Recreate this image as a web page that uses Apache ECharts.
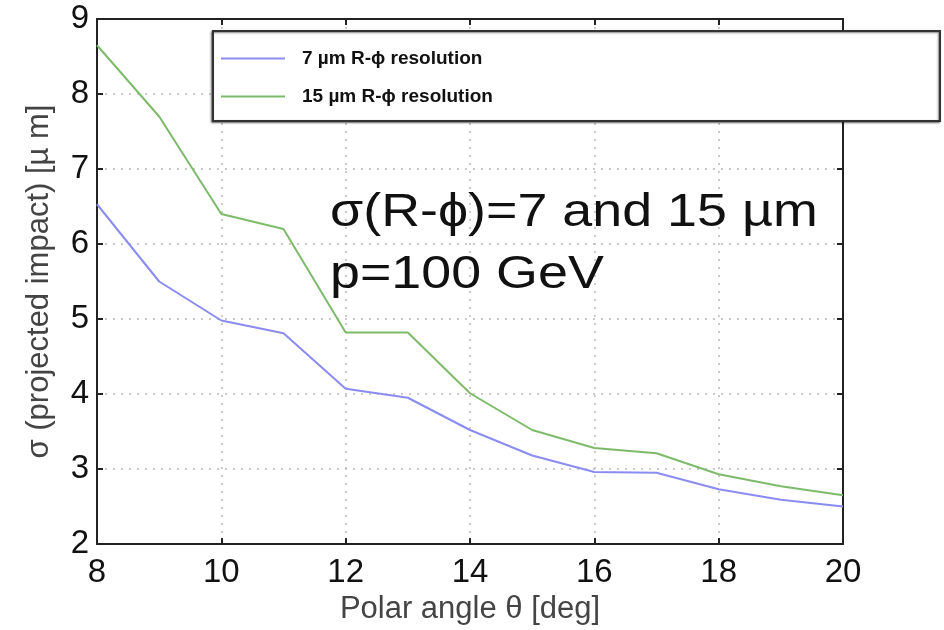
<!DOCTYPE html>
<html>
<head>
<meta charset="utf-8">
<script src="https://cdn.jsdelivr.net/npm/echarts@6/dist/echarts.min.js"></script>
<style>
  html, body { margin: 0; padding: 0; background: #fff; }
  #main { width: 944px; height: 630px; }
</style>
</head>
<body>
<div id="main"></div>
<script>
var angles = [8, 9, 10, 11, 12, 13, 14, 15, 16, 17, 18, 19, 20];
var res7 = [6.53, 5.5, 4.98, 4.81, 4.07, 3.95, 3.52, 3.18, 2.96, 2.95, 2.73, 2.59, 2.5];
var res15 = [8.65, 7.7, 6.4, 6.2, 4.82, 4.82, 4.01, 3.52, 3.28, 3.21, 2.93, 2.77, 2.65];
var seriesNames = ['7 µm R-ϕ resolution', '15 µm R-ϕ resolution'];

var chartDom = document.getElementById('main');
var myChart = echarts.init(chartDom);
var option;

function pairs(ys) {
    return angles.map(function (a, i) { return [a, ys[i]]; });
}

var axisLine = { show: true, lineStyle: { color: '#222', width: 2 } };
var tickIn = { show: true, inside: true, length: 6, lineStyle: { color: '#222', width: 2 } };
var gridDots = { show: true, lineStyle: { color: '#bbb', type: [2, 6], width: 1.5 } };

option = {
    animation: false,
    backgroundColor: '#fff',
    textStyle: { fontFamily: 'Liberation Sans' },
    grid: { left: 97, right: 101, top: 19, bottom: 83 },
    color: ['#8b8cf0', '#7dbb6a'],
    legend: {
        orient: 'vertical',
        left: 216,
        top: 44,
        itemWidth: 64,
        itemHeight: 16,
        itemGap: 19,
        icon: 'path://M0,7 L64,7 L64,9 L0,9 Z',
        textStyle: {
            fontSize: 19,
            fontWeight: 'bold',
            fontFamily: 'Liberation Sans',
            color: '#111',
            padding: [0, 0, 0, 12]
        },
        data: seriesNames
    },
    graphic: [
        {
            type: 'rect',
            z: 3,
            shape: { x: 213, y: 31, width: 727, height: 90 },
            style: { fill: '#fff', stroke: '#333', lineWidth: 2, shadowColor: 'rgba(0,0,0,0.5)', shadowOffsetX: -1, shadowOffsetY: 1, shadowBlur: 2 }
        },
        {
            type: 'text',
            z: 5,
            x: 330,
            y: 182,
            scaleX: 1.17,
            style: {
                text: 'σ(R-ϕ)=7 and 15 µm\np=100 GeV',
                fontSize: 46,
                lineHeight: 62,
                fontFamily: 'Liberation Sans',
                fill: '#111'
            }
        }
    ],
    xAxis: [
        {
            type: 'value',
            min: 8,
            max: 20,
            interval: 2,
            name: 'Polar angle θ [deg]',
            nameLocation: 'middle',
            nameGap: 50,
            nameTextStyle: { fontSize: 31, color: '#444' },
            axisLine: axisLine,
            axisTick: tickIn,
            axisLabel: { fontSize: 33, color: '#111', margin: 12 },
            splitLine: gridDots
        },
        {
            type: 'value',
            position: 'top',
            min: 8,
            max: 20,
            interval: 2,
            axisLine: axisLine,
            axisTick: tickIn,
            axisLabel: { show: false },
            splitLine: { show: false }
        }
    ],
    yAxis: [
        {
            type: 'value',
            min: 2,
            max: 9,
            interval: 1,
            name: 'σ (projected impact) [µ m]',
            nameLocation: 'middle',
            nameGap: 42,
            nameTextStyle: { fontSize: 31, color: '#444' },
            axisLine: axisLine,
            axisTick: tickIn,
            axisLabel: { fontSize: 33, color: '#111', margin: 8 },
            splitLine: gridDots
        },
        {
            type: 'value',
            position: 'right',
            min: 2,
            max: 9,
            interval: 1,
            axisLine: axisLine,
            axisTick: tickIn,
            axisLabel: { show: false },
            splitLine: { show: false }
        }
    ],
    series: [
        {
            name: seriesNames[0],
            type: 'line',
            showSymbol: false,
            lineStyle: { width: 2 },
            data: pairs(res7)
        },
        {
            name: seriesNames[1],
            type: 'line',
            showSymbol: false,
            lineStyle: { width: 2 },
            data: pairs(res15)
        }
    ]
};

option && myChart.setOption(option);
</script>
</body>
</html>
